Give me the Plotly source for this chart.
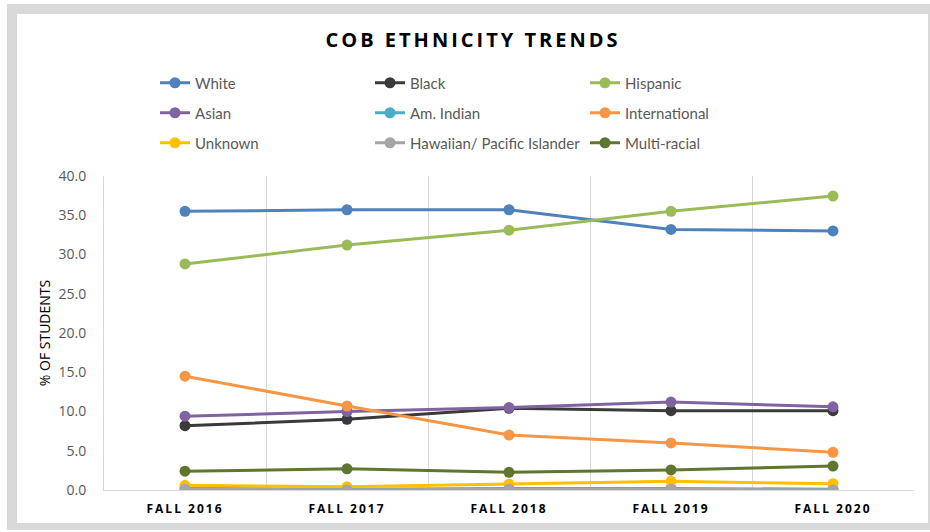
import plotly.graph_objects as go

categories = ["FALL 2016", "FALL 2017", "FALL 2018", "FALL 2019", "FALL 2020"]
y_ticks = [0, 5, 10, 15, 20, 25, 30, 35, 40]

white = [35.5, 35.7, 35.7, 33.2, 33.0]
black = [8.2, 9.0, 10.4, 10.1, 10.1]
hispanic = [28.8, 31.2, 33.1, 35.5, 37.45]
asian = [9.4, 10.0, 10.5, 11.2, 10.6]
am_indian = [0.2, 0.1, 0.2, 0.2, 0.1]
international = [14.5, 10.7, 7.0, 6.0, 4.8]
unknown = [0.6, 0.4, 0.75, 1.1, 0.8]
hawaiian = [0.1, 0.0, 0.1, 0.1, 0.0]
multiracial = [2.4, 2.7, 2.25, 2.55, 3.05]

series = [
    ("White", white, "#4F81BD", "legend"),
    ("Black", black, "#3A3A3A", "legend"),
    ("Hispanic", hispanic, "#9BBB59", "legend"),
    ("Asian", asian, "#8064A2", "legend2"),
    ("Am. Indian", am_indian, "#4BACC6", "legend2"),
    ("International", international, "#F79646", "legend2"),
    ("Unknown", unknown, "#FFC000", "legend3"),
    ("Hawaiian/ Pacific Islander", hawaiian, "#A5A5A5", "legend3"),
    ("Multi-racial", multiracial, "#5F7530", "legend3"),
]

W, H = 930, 532
L, R, T, B = 104, 16, 176, 42
PW, PH = W - L - R, H - T - B

def px_x(p):
    return (p - L) / PW

def px_y(p):
    return (H - B - p) / PH

xs = list(range(len(categories)))

fig = go.Figure()
for name, vals, color, leg in series:
    fig.add_trace(go.Scatter(
        x=xs, y=vals, name=name, mode="lines+markers",
        line=dict(color=color, width=3),
        marker=dict(color=color, size=11),
        legend=leg,
    ))

legend_common = dict(
    orientation="h", xanchor="left", yanchor="middle",
    font=dict(family="Lato", size=15, color="#595959"),
    entrywidth=170, entrywidthmode="pixels",
    bgcolor="rgba(0,0,0,0)", itemclick=False,
)

fig.update_layout(
    width=W, height=H,
    margin=dict(l=L, r=R, t=T, b=B),
    paper_bgcolor="white",
    plot_bgcolor="rgba(0,0,0,0)",
    title=dict(text="<b>COB ETHNICITY TRENDS</b>", x=(473) / W, xanchor="center",
               y=1 - 40 / H, yanchor="middle",
               font=dict(family="Open Sans", size=20, color="#000000")),
    legend=dict(x=px_x(155), y=px_y(83), **legend_common),
    legend2=dict(x=px_x(155), y=px_y(113), **legend_common),
    legend3=dict(x=px_x(155), y=px_y(143), **legend_common),
    xaxis=dict(
        range=[-0.5, 4.5], tickvals=xs, ticktext=["<b>" + c + "</b>" for c in categories],
        showgrid=False, zeroline=False,
        minor=dict(showgrid=True, tick0=-0.5, dtick=1, gridcolor="#D9D9D9", gridwidth=1),
        showline=True, linecolor="#D9D9D9", linewidth=1,
        tickfont=dict(family="Open Sans", size=12, color="#000000"),
        ticks="", ticklabelstandoff=8,
    ),
    yaxis=dict(
        range=[0, 40], tickvals=y_ticks, tickformat=".1f",
        showgrid=False, zeroline=False,
        showline=True, linecolor="#D9D9D9", linewidth=1,
        tickfont=dict(family="Open Sans", size=14, color="#595959"),
        ticks="", ticklabelstandoff=14,
        title=dict(text="% OF STUDENTS", font=dict(family="Open Sans", size=14, color="#000000"),
                   standoff=4),
    ),
    shapes=[
        dict(type="rect", xref="paper", yref="paper", layer="below",
             x0=px_x(7), x1=px_x(940), y0=px_y(530), y1=px_y(4),
             fillcolor="#D9D9D9", line=dict(width=0)),
        dict(type="rect", xref="paper", yref="paper", layer="below",
             x0=px_x(17), x1=px_x(928), y0=px_y(523), y1=px_y(14),
             fillcolor="white", line=dict(width=0)),
    ],
    showlegend=True,
)

post = (
    "document.body.style.margin='0px';"
    "document.querySelectorAll('.gtitle').forEach(function(e){e.style.letterSpacing='3px';});"
    "document.querySelectorAll('.xtick text').forEach(function(e){e.style.letterSpacing='2px';});"
)

fig.write_html("out.html", post_script=post, config={"displayModeBar": False})
